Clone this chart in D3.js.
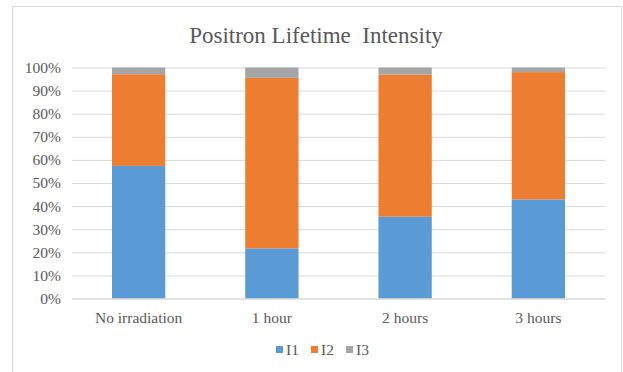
<!DOCTYPE html>
<html>
<head>
<meta charset="utf-8">
<script src="https://cdn.jsdelivr.net/npm/d3@7"></script>
<style>
  html, body { margin: 0; padding: 0; background: #fff; }
  svg { display: block; }
  text { font-family: "Liberation Serif", "Times New Roman", serif; fill: #595959; }
</style>
</head>
<body>
<svg id="chart" width="623" height="372"></svg>
<script>
// Positron lifetime intensities (%) per irradiation time
const categories = ["No irradiation", "1 hour", "2 hours", "3 hours"];
const seriesNames = ["I1", "I2", "I3"];
const i1 = [57.4, 21.7, 35.4, 42.9];
const i2 = [39.7, 73.8, 61.5, 55.1];
const i3 = [2.9, 4.5, 3.1, 2.0];
const yTicks = [0, 10, 20, 30, 40, 50, 60, 70, 80, 90, 100];
const colors = ["#5B9BD5", "#ED7D31", "#A5A5A5"];

const rows = categories.map((c, i) => ({ cat: c, I1: i1[i], I2: i2[i], I3: i3[i] }));

const svg = d3.select("#chart");
const plot = { left: 72, right: 605, top: 67.5, bottom: 298.5 };

// outer chart frame
svg.append("rect")
  .attr("x", 12.5).attr("y", 6.5)
  .attr("width", 609).attr("height", 380)
  .attr("fill", "#fff").attr("stroke", "#d9d9d9").attr("stroke-width", 1);

const x = d3.scaleBand().domain(categories)
  .range([plot.left, plot.right]).paddingInner(0.6).paddingOuter(0.3);
const y = d3.scaleLinear().domain([0, 100]).range([plot.bottom, plot.top]);

// horizontal gridlines and percentage labels
const yAxis = d3.axisLeft(y).tickValues(yTicks).tickFormat(d => d + "%")
  .tickSize(-(plot.right - plot.left)).tickPadding(11);
const gy = svg.append("g").attr("transform", `translate(${plot.left},0)`).call(yAxis);
gy.select(".domain").remove();
gy.selectAll(".tick line").attr("stroke", "#d9d9d9").attr("stroke-width", 1);
gy.selectAll(".tick text").attr("font-size", 15.5).style("fill", "#595959")
  .attr("font-family", "Liberation Serif, serif");

// stacked bars
const stack = d3.stack().keys(seriesNames)(rows);
svg.append("g").selectAll("g").data(stack).join("g")
  .attr("fill", (d, i) => colors[i])
  .selectAll("rect").data(d => d).join("rect")
  .attr("x", d => x(d.data.cat))
  .attr("width", x.bandwidth())
  .attr("y", d => y(d[1]))
  .attr("height", d => y(d[0]) - y(d[1]));

// category axis
const xAxis = d3.axisBottom(x).tickSize(0).tickPadding(13);
const gx = svg.append("g").attr("transform", `translate(0,${plot.bottom})`).call(xAxis);
gx.select(".domain").attr("stroke", "#d9d9d9");
gx.selectAll(".tick text").attr("font-size", 15.5).style("fill", "#595959")
  .attr("font-family", "Liberation Serif, serif");

// title
svg.append("text")
  .attr("x", 316).attr("y", 43)
  .attr("text-anchor", "middle")
  .attr("font-size", 23)
  .style("white-space", "pre")
  .text("Positron Lifetime  Intensity");

// legend
const legendX = [276, 311, 346];
const lg = svg.append("g").selectAll("g").data(seriesNames).join("g")
  .attr("transform", (d, i) => `translate(${legendX[i]},355)`);
lg.append("rect").attr("x", 0).attr("y", -9).attr("width", 7).attr("height", 7)
  .attr("fill", (d, i) => colors[i]);
lg.append("text").attr("x", 10).attr("y", 0).attr("font-size", 15.5).text(d => d);
</script>
</body>
</html>
